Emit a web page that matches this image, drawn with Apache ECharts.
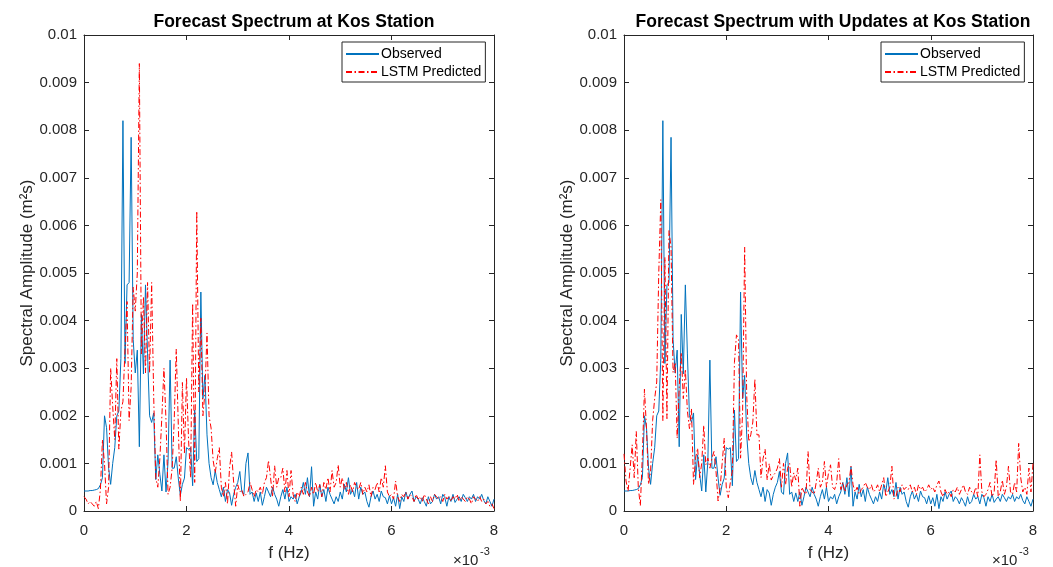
<!DOCTYPE html>
<html>
<head>
<meta charset="utf-8">
<script src="https://cdn.jsdelivr.net/npm/echarts@6/dist/echarts.min.js"></script>
<style>
html,body{margin:0;padding:0;background:#fff;}
#chart{width:1053px;height:567px;}
</style>
</head>
<body>
<div id="chart"></div>
<script>
// Frequency step (units of 1e-3 Hz) and tick labels
var dfStep = 0.04;
var xTickLabels = ['0','2','4','6','8'];
var yTickLabels = ['0','0.001','0.002','0.003','0.004','0.005','0.006','0.007','0.008','0.009','0.01'];
var titles = ['Forecast Spectrum at Kos Station','Forecast Spectrum with Updates at Kos Station'];
var seriesNames = ['Observed','LSTM Predicted'];

// Spectral amplitudes (units of 1e-3 m^2 s)
var observed = [
0.42,0.42,0.42,0.43,0.43,0.44,0.45,0.47,0.55,0.7,
2.0,1.75,0.9,0.56,1.0,1.33,2.0,2.1,3.2,8.2,
3.1,4.75,4.8,7.85,3.6,2.9,3.38,1.35,4.13,2.88,
4.75,3.3,2.0,1.86,2.06,0.66,1.18,0.77,0.42,1.18,
0.4,1.04,3.17,0.9,0.9,1.14,0.69,0.33,0.56,0.69,
1.33,1.3,1.33,0.53,2.12,1.04,1.1,4.6,2.36,2.85,
1.6,1.0,0.7,0.55,0.85,0.6,0.45,0.3,0.5,0.2,
0.45,0.38,0.12,0.35,0.5,0.6,0.83,0.4,0.35,1.0,
1.22,0.35,0.4,0.2,0.38,0.2,0.4,0.12,0.3,0.5,
0.4,0.3,0.5,0.35,0.25,0.1,0.3,0.45,0.25,0.5,
0.2,0.3,0.25,0.35,0.15,0.3,0.4,0.6,0.35,0.7,
0.3,0.93,0.1,0.4,0.25,0.56,0.3,0.45,0.2,0.5,
0.35,0.25,0.15,0.3,0.2,0.4,0.25,0.56,0.4,0.7,
0.35,0.45,0.3,0.6,0.25,0.5,0.35,0.4,0.2,0.08,
0.3,0.42,0.25,0.35,0.2,0.42,0.3,0.28,0.15,0.32,
0.15,0.28,0.1,0.35,0.05,0.3,0.2,0.4,0.25,0.35,
0.42,0.2,0.3,0.25,0.15,0.28,0.2,0.1,0.3,0.15,
0.2,0.35,0.25,0.3,0.15,0.35,0.28,0.1,0.3,0.2,
0.35,0.18,0.25,0.3,0.2,0.35,0.28,0.2,0.3,0.25,
0.35,0.2,0.3,0.25,0.35,0.22,0.15,0.3,0.2,0.1,
0.25];

var predictedLeft = [
0.3,0.25,0.15,0.2,0.15,0.1,0.2,0.05,0.45,1.5,
1.0,0.15,0.5,3.0,2.2,1.5,3.2,1.3,2.1,2.3,
3.4,4.4,1.9,2.6,4.7,4.2,5.0,9.4,3.3,4.5,
2.9,4.8,2.9,4.8,2.4,0.7,0.5,1.1,2.0,3.0,
1.9,0.35,0.5,0.9,1.9,3.4,1.8,0.2,2.7,1.2,
2.8,1.5,0.7,4.36,0.6,6.3,2.5,4.05,2.0,2.5,
3.74,2.0,1.74,1.06,0.8,1.1,1.33,0.5,0.3,0.6,
0.15,0.9,1.24,0.6,0.1,0.55,0.4,0.45,0.3,0.35,
0.4,0.6,0.45,0.3,0.45,0.4,0.5,0.35,0.6,0.7,
1.06,0.7,0.3,0.95,0.5,0.7,0.7,0.9,0.4,0.85,
0.3,0.85,0.35,0.2,0.4,0.3,0.5,0.35,0.6,0.4,
0.3,0.5,0.35,0.6,0.4,0.55,0.3,0.6,0.45,0.7,
0.4,0.85,0.5,0.6,0.97,0.5,0.7,0.45,0.6,0.35,
0.55,0.4,0.6,0.5,0.45,0.6,0.35,0.5,0.4,0.55,
0.3,0.5,0.45,0.6,0.4,0.7,0.5,0.95,0.4,0.3,
0.35,0.25,0.63,0.3,0.2,0.35,0.3,0.4,0.25,0.35,
0.3,0.2,0.35,0.25,0.3,0.2,0.35,0.25,0.15,0.3,
0.2,0.35,0.3,0.25,0.3,0.2,0.35,0.25,0.3,0.2,
0.3,0.25,0.35,0.2,0.3,0.25,0.2,0.3,0.25,0.15,
0.3,0.25,0.2,0.3,0.2,0.25,0.15,0.2,0.1,0.15,
0.05];

var predictedRight = [
1.2,0.63,0.42,0.9,1.39,0.7,1.67,0.49,0.11,1.2,
2.56,1.73,0.56,0.83,1.9,2.36,2.71,5.0,6.54,1.9,
5.33,1.94,5.89,5.54,2.91,3.12,1.53,2.6,3.33,2.36,
2.98,2.1,1.73,2.15,0.56,1.11,1.32,0.7,1.0,1.8,
0.97,1.11,0.9,1.11,1.25,0.83,0.21,0.49,1.0,1.53,
0.5,0.28,0.6,0.84,3.12,3.7,3.6,1.11,2.08,5.54,
2.43,1.46,1.6,1.87,2.77,1.6,1.6,0.7,1.1,1.3,
0.65,1.0,0.65,0.75,0.8,0.9,1.1,0.5,1.0,0.55,
0.9,1.0,0.5,0.8,0.65,0.9,0.1,0.5,0.4,0.35,
1.25,0.45,0.4,0.35,0.6,0.9,0.5,0.6,1.04,0.5,
0.8,0.97,0.5,0.45,0.6,1.1,0.45,0.6,0.4,0.55,
0.6,0.94,0.55,0.4,0.5,0.35,0.45,0.5,0.6,0.5,
0.45,0.55,0.4,0.45,0.55,0.4,0.55,0.7,0.3,0.4,
0.5,0.94,0.25,0.3,0.5,0.4,0.55,0.45,0.5,0.45,
0.55,0.4,0.5,0.35,0.55,0.45,0.5,0.4,0.45,0.55,
0.45,0.5,0.4,0.55,0.63,0.4,0.3,0.45,0.35,0.4,
0.3,0.45,0.4,0.5,0.35,0.45,0.55,0.4,0.35,0.5,
0.4,0.35,0.5,0.3,1.18,0.4,0.3,0.35,0.45,0.6,
0.3,0.4,1.08,0.3,0.4,0.65,0.35,0.5,0.94,0.4,
0.35,0.6,0.4,1.42,0.7,0.4,0.5,0.35,0.9,0.4,
1.0];

function pairs(vals){
  var out = [];
  for (var i = 0; i < vals.length; i++) out.push([+(i*dfStep).toFixed(4), vals[i]]);
  return out;
}

var FONT = '"Liberation Sans", Arial, Helvetica, sans-serif';
var AX = '#262626';
var BLUE = '#0072BD';
var RED = '#FF0000';

var grids = [
  {left:84, top:35, width:410, height:482},
  {left:624, top:35, width:409, height:482}
];

function xAxes(g){
  var base = {gridIndex:g, type:'value', min:0, max:8, interval:2,
    axisLine:{show:true, onZero:false, lineStyle:{color:AX, width:1}},
    axisTick:{show:true, inside:true, length:5, lineStyle:{color:AX}},
    splitLine:{show:false}};
  return [
    Object.assign({}, base, {position:'bottom',
      axisLabel:{show:true, fontSize:15, color:AX, fontFamily:FONT, margin:12,
        formatter:function(v){ return xTickLabels[Math.round(v/2)]; }},
      name:'f (Hz)', nameLocation:'middle', nameGap:34,
      nameTextStyle:{fontSize:17, color:AX, fontFamily:FONT}}),
    Object.assign({}, base, {position:'top', axisLabel:{show:false}})
  ];
}
function yAxes(g){
  var base = {gridIndex:g, type:'value', min:0, max:10, interval:1,
    axisLine:{show:true, onZero:false, lineStyle:{color:AX, width:1}},
    axisTick:{show:true, inside:true, length:5, lineStyle:{color:AX}},
    splitLine:{show:false}};
  return [
    Object.assign({}, base, {position:'left',
      axisLabel:{show:true, fontSize:15, color:AX, fontFamily:FONT, margin:7,
        formatter:function(v){ return yTickLabels[Math.round(v)]; }},
      name:'Spectral Amplitude (m²s)', nameLocation:'middle', nameGap:48, nameRotate:90,
      nameTextStyle:{fontSize:17, color:AX, fontFamily:FONT}}),
    Object.assign({}, base, {position:'right', axisLabel:{show:false}})
  ];
}

function mkSeries(g, name, vals, color, dashed){
  return {
    name:name, type:'line', xAxisIndex:g*2, yAxisIndex:g*2,
    data:pairs(vals), symbol:'none', showSymbol:false, smooth:false,
    lineStyle:{color:color, width:1, type: dashed ? [6,2.5,1.5,2.5] : 'solid'},
    itemStyle:{color:color}, animation:false, silent:true
  };
}

function mkLegend(left){
  return {
    left:left, top:42, orient:'vertical',
    data:seriesNames,
    backgroundColor:'#fff', borderColor:AX, borderWidth:1, borderRadius:0,
    padding:[5,4,3,3], itemGap:4, itemWidth:33, itemHeight:14,
    itemStyle:{opacity:0},
    textStyle:{fontSize:14, color:'#000', fontFamily:FONT, padding:[0,0,0,-3]},
    selectedMode:false
  };
}

var option = {
  animation:false,
  backgroundColor:'#fff',
  title:[
    {text:titles[0], left:289, top:8, textAlign:'center',
      textStyle:{fontSize:17.5, fontWeight:'bold', color:'#000', fontFamily:FONT}},
    {text:titles[1], left:828, top:8, textAlign:'center',
      textStyle:{fontSize:17.5, fontWeight:'bold', color:'#000', fontFamily:FONT}}
  ],
  grid:grids,
  xAxis:xAxes(0).concat(xAxes(1)),
  yAxis:yAxes(0).concat(yAxes(1)),
  legend:[mkLegend(342), mkLegend(881)],
  series:[
    mkSeries(0, seriesNames[0], observed, BLUE, false),
    mkSeries(0, seriesNames[1], predictedLeft, RED, true),
    mkSeries(1, seriesNames[0], observed, BLUE, false),
    mkSeries(1, seriesNames[1], predictedRight, RED, true)
  ],
  graphic:[
    {type:'text', left:453, top:553, style:{text:'×10', fontSize:15, fill:AX, fontFamily:FONT}},
    {type:'text', left:480, top:546, style:{text:'-3', fontSize:11, fill:AX, fontFamily:FONT}},
    {type:'text', left:992, top:553, style:{text:'×10', fontSize:15, fill:AX, fontFamily:FONT}},
    {type:'text', left:1019, top:546, style:{text:'-3', fontSize:11, fill:AX, fontFamily:FONT}}
  ]
};

var chart = echarts.init(document.getElementById('chart'), null, {renderer:'canvas'});
chart.setOption(option);
</script>
</body>
</html>
